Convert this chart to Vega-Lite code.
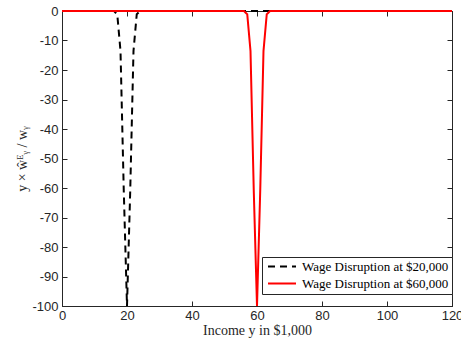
{
  "$schema": "https://vega.github.io/schema/vega-lite/v6.json",
  "width": 390,
  "height": 295,
  "autosize": {"type": "none"},
  "padding": {"left": 62, "top": 11, "right": 9, "bottom": 36},
  "background": "white",
  "config": {
    "view": {"stroke": "#262626", "strokeWidth": 1},
    "axis": {
      "domainColor": "#262626",
      "tickColor": "#262626",
      "labelColor": "#262626",
      "labelFont": "Liberation Sans",
      "labelFontSize": 13,
      "titleFont": "Liberation Serif",
      "titleFontSize": 14,
      "titleFontWeight": "normal",
      "titleColor": "#262626",
      "grid": false,
      "tickSize": -5
    }
  },
  "data": {
    "values": [
      {"income": 0, "value": 0, "series": "Wage Disruption at $20,000"},
      {"income": 10, "value": 0, "series": "Wage Disruption at $20,000"},
      {"income": 15, "value": 0, "series": "Wage Disruption at $20,000"},
      {"income": 16, "value": -0.03, "series": "Wage Disruption at $20,000"},
      {"income": 17, "value": -1.11, "series": "Wage Disruption at $20,000"},
      {"income": 18, "value": -13.53, "series": "Wage Disruption at $20,000"},
      {"income": 19, "value": -60.65, "series": "Wage Disruption at $20,000"},
      {"income": 20, "value": -100, "series": "Wage Disruption at $20,000"},
      {"income": 21, "value": -60.65, "series": "Wage Disruption at $20,000"},
      {"income": 22, "value": -13.53, "series": "Wage Disruption at $20,000"},
      {"income": 23, "value": -1.11, "series": "Wage Disruption at $20,000"},
      {"income": 24, "value": -0.03, "series": "Wage Disruption at $20,000"},
      {"income": 25, "value": 0, "series": "Wage Disruption at $20,000"},
      {"income": 40, "value": 0, "series": "Wage Disruption at $20,000"},
      {"income": 60, "value": 0, "series": "Wage Disruption at $20,000"},
      {"income": 80, "value": 0, "series": "Wage Disruption at $20,000"},
      {"income": 100, "value": 0, "series": "Wage Disruption at $20,000"},
      {"income": 120, "value": 0, "series": "Wage Disruption at $20,000"},
      {"income": 0, "value": 0, "series": "Wage Disruption at $60,000"},
      {"income": 20, "value": 0, "series": "Wage Disruption at $60,000"},
      {"income": 40, "value": 0, "series": "Wage Disruption at $60,000"},
      {"income": 55, "value": 0, "series": "Wage Disruption at $60,000"},
      {"income": 56, "value": -0.03, "series": "Wage Disruption at $60,000"},
      {"income": 57, "value": -1.11, "series": "Wage Disruption at $60,000"},
      {"income": 58, "value": -13.53, "series": "Wage Disruption at $60,000"},
      {"income": 59, "value": -60.65, "series": "Wage Disruption at $60,000"},
      {"income": 60, "value": -100, "series": "Wage Disruption at $60,000"},
      {"income": 61, "value": -60.65, "series": "Wage Disruption at $60,000"},
      {"income": 62, "value": -13.53, "series": "Wage Disruption at $60,000"},
      {"income": 63, "value": -1.11, "series": "Wage Disruption at $60,000"},
      {"income": 64, "value": -0.03, "series": "Wage Disruption at $60,000"},
      {"income": 65, "value": 0, "series": "Wage Disruption at $60,000"},
      {"income": 80, "value": 0, "series": "Wage Disruption at $60,000"},
      {"income": 100, "value": 0, "series": "Wage Disruption at $60,000"},
      {"income": 120, "value": 0, "series": "Wage Disruption at $60,000"}
    ]
  },
  "layer": [
    {
      "mark": {"type": "line", "strokeWidth": 2},
      "encoding": {
        "x": {
          "field": "income", "type": "quantitative",
          "scale": {"domain": [0, 120], "nice": false, "zero": false},
          "axis": {"orient": "bottom", "title": "Income y in $1,000", "values": [0, 20, 40, 60, 80, 100, 120], "labelPadding": 8, "titlePadding": 1, "labelFlush": false}
        },
        "y": {
          "field": "value", "type": "quantitative",
          "scale": {"domain": [-100, 0], "nice": false},
          "axis": {"orient": "left", "title": "y × ŵᴱᵧ / wᵧ", "values": [-100, -90, -80, -70, -60, -50, -40, -30, -20, -10, 0], "labelExpr": "replace(datum.label, '−', '-')", "labelPadding": 9, "titlePadding": 2}
        },
        "color": {
          "field": "series", "type": "nominal",
          "scale": {"domain": ["Wage Disruption at $20,000", "Wage Disruption at $60,000"], "range": ["#000000", "#ff0000"]},
          "legend": {
            "title": null, "orient": "none", "legendX": 200, "legendY": 246,
            "fillColor": "white", "strokeColor": "#262626", "padding": 3,
            "labelFont": "Liberation Serif", "labelFontSize": 13, "labelColor": "#000000",
            "labelLimit": 300, "symbolType": "M-1,0H7", "symbolSize": 49,
            "symbolStrokeWidth": 2, "rowPadding": 3, "labelOffset": 24
          }
        },
        "strokeDash": {
          "field": "series", "type": "nominal",
          "scale": {"domain": ["Wage Disruption at $20,000", "Wage Disruption at $60,000"], "range": [[7, 5], [1, 0]]},
          "legend": {
            "title": null, "orient": "none", "legendX": 200, "legendY": 246,
            "fillColor": "white", "strokeColor": "#262626", "padding": 3,
            "labelFont": "Liberation Serif", "labelFontSize": 13, "labelColor": "#000000",
            "labelLimit": 300, "symbolType": "M-1,0H7", "symbolSize": 49,
            "symbolStrokeWidth": 2, "rowPadding": 3, "labelOffset": 24
          }
        }
      }
    },
    {
      "mark": {"type": "line", "opacity": 0},
      "encoding": {
        "x": {
          "field": "income", "type": "quantitative",
          "scale": {"domain": [0, 120], "nice": false, "zero": false},
          "axis": {"orient": "top", "title": null, "labels": false, "values": [0, 20, 40, 60, 80, 100, 120]}
        },
        "y": {
          "field": "value", "type": "quantitative",
          "scale": {"domain": [-100, 0], "nice": false},
          "axis": {"orient": "right", "title": null, "labels": false, "values": [-100, -90, -80, -70, -60, -50, -40, -30, -20, -10, 0]}
        },
        "detail": {"field": "series", "type": "nominal"}
      }
    }
  ],
  "resolve": {"axis": {"x": "independent", "y": "independent"}}
}
